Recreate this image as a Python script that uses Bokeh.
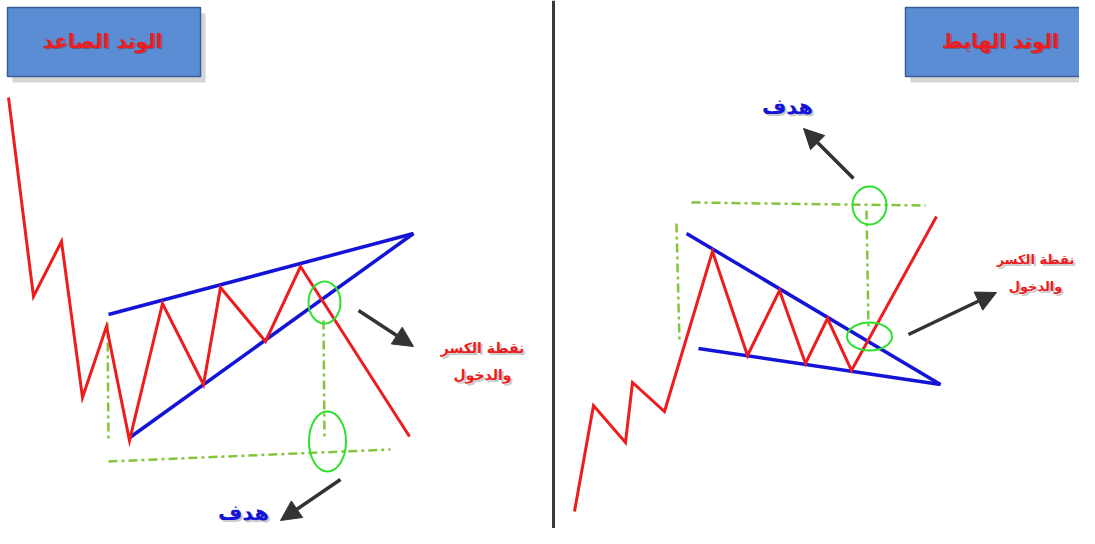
from bokeh.plotting import figure
from bokeh.models import Range1d, Arrow, NormalHead
from bokeh.core.properties import value
from bokeh.embed import file_html
from bokeh.resources import INLINE

# ---- data (page-pixel coordinates) ----
# Rising wedge (left)
rise_price_x = [8, 33, 61, 82, 106, 129, 162, 203, 220, 265, 300, 409]
rise_price_y = [97, 296, 241, 397, 326, 440, 303, 384, 287, 341, 266, 436]
rise_upper_x = [108, 413]
rise_upper_y = [314, 233]
rise_lower_x = [128, 413]
rise_lower_y = [438, 233]
rise_vguide_x = [107, 108]
rise_vguide_y = [322, 440]
rise_hguide_x = [108, 390]
rise_hguide_y = [461, 449]
rise_mguide_x = [323, 324]
rise_mguide_y = [320, 440]
rise_ell_x = [324, 327]
rise_ell_y = [302, 441]
rise_ell_w = [32, 37]
rise_ell_h = [42, 60]

# Falling wedge (right)
fall_price_x = [574, 593, 625, 632, 664, 712, 747, 779, 805, 827, 851, 936]
fall_price_y = [511, 405, 442, 382, 411, 251, 355, 290, 363, 318, 370, 216]
fall_upper_x = [686, 940]
fall_upper_y = [233, 384]
fall_lower_x = [698, 940]
fall_lower_y = [348, 384]
fall_vguide_x = [676, 679]
fall_vguide_y = [223, 342]
fall_hguide_x = [691, 925]
fall_hguide_y = [202, 205]
fall_mguide_x = [866, 868]
fall_mguide_y = [210, 326]
fall_ell_x = [869, 869]
fall_ell_y = [205, 336]
fall_ell_w = [34, 45]
fall_ell_h = [38, 28]

# Title boxes
box_left = [7, 905]
box_right = [200, 1098]
box_top = [7, 7]
box_bottom = [76, 76]
box_titles = ["الوتد الصاعد", "الوتد الهابط"]
box_tx = [102, 1000]
box_ty = [40, 40]

# Arrows: start -> end
arrow_x0 = [358, 340, 853, 908]
arrow_y0 = [310, 479, 178, 334]
arrow_x1 = [413, 280, 803, 996]
arrow_y1 = [346, 520, 128, 292]

# Labels
break_lines = ["نقطة الكسر", "والدخول"]
break_x = [482, 1035]
break_y = [347, 259]
break_size = ["14px", "13px"]
target_label = "هدف"
target_x = [243, 787]
target_y = [512, 106]

# divider
div_x = [553, 553]
div_y = [0, 544]

RED = "#ee1c1c"
BLUE = "#1414d8"
GUIDE = "#86c440"
ELL = "#2ee02e"
FONT = value("DejaVu Sans")

p = figure(width=1079, height=528, output_backend="svg", toolbar_location=None,
           x_range=Range1d(0, 1079), y_range=Range1d(528, 0), min_border=0,
           background_fill_color="white", border_fill_color="white")
p.axis.visible = False
p.grid.visible = False
p.outline_line_color = None

# title boxes with shadow
p.quad(left=[l + 5 for l in box_left], right=[r + 5 for r in box_right],
       top=[t + 6 for t in box_top], bottom=[b + 6 for b in box_bottom],
       fill_color="#888888", fill_alpha=0.35, line_color=None)
p.quad(left=box_left, right=box_right, top=box_top, bottom=box_bottom,
       fill_color="#5b8dd4", line_color="#3b5c96", line_width=1.5)
p.text(x=[x + 1.5 for x in box_tx], y=[y + 1.5 for y in box_ty], text=box_titles,
       text_color="#7a2a2a", text_alpha=0.5, text_font=FONT,
       text_font_style="bold", text_font_size="20px", text_align="center", text_baseline="middle")
p.text(x=box_tx, y=box_ty, text=box_titles, text_color=RED, text_font=FONT,
       text_font_style="bold", text_font_size="20px", text_align="center", text_baseline="middle")

# divider
p.line(div_x, div_y, line_color="#3a3a3a", line_width=3)

dash = "9 4 3 4"
for gx, gy in [(rise_vguide_x, rise_vguide_y), (rise_hguide_x, rise_hguide_y),
               (rise_mguide_x, rise_mguide_y), (fall_vguide_x, fall_vguide_y),
               (fall_hguide_x, fall_hguide_y), (fall_mguide_x, fall_mguide_y)]:
    p.line(gx, gy, line_color=GUIDE, line_width=2.5, line_dash=dash)

# wedges
for bx, by in [(rise_upper_x, rise_upper_y), (rise_lower_x, rise_lower_y),
               (fall_upper_x, fall_upper_y), (fall_lower_x, fall_lower_y)]:
    p.line(bx, by, line_color=BLUE, line_width=3.5)

p.line(rise_price_x, rise_price_y, line_color=RED, line_width=3, line_join="miter")
p.line(fall_price_x, fall_price_y, line_color=RED, line_width=3, line_join="miter")

p.ellipse(x=rise_ell_x, y=rise_ell_y, width=rise_ell_w, height=rise_ell_h,
          fill_color=None, line_color=ELL, line_width=2)
p.ellipse(x=fall_ell_x, y=fall_ell_y, width=fall_ell_w, height=fall_ell_h,
          fill_color=None, line_color=ELL, line_width=2)

for x0, y0, x1, y1 in zip(arrow_x0, arrow_y0, arrow_x1, arrow_y1):
    p.add_layout(Arrow(end=NormalHead(size=20, fill_color="#333333", line_color="#333333"),
                       x_start=x0, y_start=y0, x_end=x1, y_end=y1,
                       line_color="#333333", line_width=3.5))

# labels
for bx, by, fs in zip(break_x, break_y, break_size):
    ys = [by, by + 27]
    p.text(x=[bx + 2, bx + 2], y=[y + 2 for y in ys], text=break_lines, text_color="#888888",
           text_alpha=0.45, text_font=FONT, text_font_style="bold",
           text_font_size=fs, text_align="center", text_baseline="middle")
    p.text(x=[bx, bx], y=ys, text=break_lines, text_color=RED,
           text_font=FONT, text_font_style="bold",
           text_font_size=fs, text_align="center", text_baseline="middle")

p.text(x=[x + 2 for x in target_x], y=[y + 2 for y in target_y], text=[target_label] * 2,
       text_color="#888888", text_alpha=0.45, text_font=FONT,
       text_font_style="bold", text_font_size="21px", text_align="center", text_baseline="middle")
p.text(x=target_x, y=target_y, text=[target_label] * 2, text_color=BLUE,
       text_font=FONT, text_font_style="bold", text_font_size="21px",
       text_align="center", text_baseline="middle")

open("out.html", "w").write(file_html(p, INLINE))
